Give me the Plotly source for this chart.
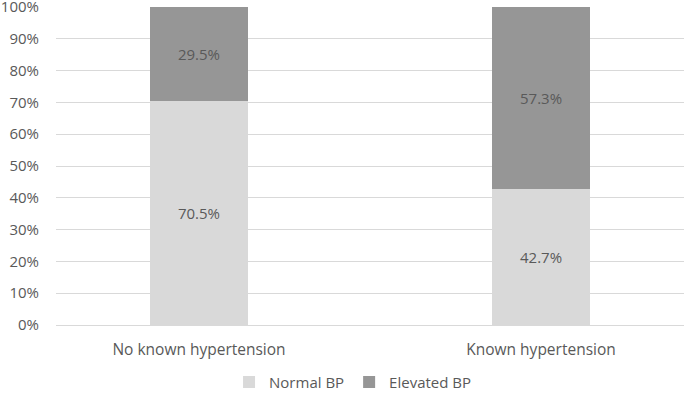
import plotly.graph_objects as go

categories = ["No known hypertension", "Known hypertension"]
normal_bp = [70.5, 42.7]
elevated_bp = [29.5, 57.3]
tick_vals = [0, 10, 20, 30, 40, 50, 60, 70, 80, 90, 100]
tick_text = [f"{v}%" for v in tick_vals]

font_family = "Open Sans, Liberation Sans, sans-serif"
text_color = "#595959"

fig = go.Figure()
fig.add_trace(go.Bar(
    x=categories, y=normal_bp, name="Normal BP",
    marker=dict(color="#d9d9d9", line=dict(width=0)),
    text=[f"{v:.1f}%" for v in normal_bp], textposition="inside",
    insidetextanchor="middle",
    textfont=dict(color=text_color, size=15, family=font_family),
    width=0.287,
))
fig.add_trace(go.Bar(
    x=categories, y=elevated_bp, name="Elevated BP",
    marker=dict(color="#969696", line=dict(width=0)),
    text=[f"{v:.1f}%" for v in elevated_bp], textposition="inside",
    insidetextanchor="middle",
    textfont=dict(color=text_color, size=15, family=font_family),
    width=0.287,
))

fig.update_layout(
    barmode="stack",
    width=685, height=393,
    margin=dict(l=56, r=1, t=7, b=68, autoexpand=False),
    paper_bgcolor="white", plot_bgcolor="white",
    font=dict(family=font_family, size=15, color=text_color),
    showlegend=True,
    legend=dict(orientation="h", x=0.473, xanchor="center", y=-0.128, yanchor="top",
                font=dict(size=15, color=text_color), traceorder="normal",
                itemwidth=30),
    uniformtext=dict(mode="show", minsize=15),
)
fig.update_yaxes(range=[0, 100], tickvals=tick_vals, ticktext=tick_text,
                 showgrid=True, gridcolor="#d9d9d9", gridwidth=1,
                 zeroline=False, showline=False, ticks="", ticklabelstandoff=16,
                 automargin=False, ticklabeloverflow="allow",
                 tickfont=dict(size=15, color=text_color))
fig.update_xaxes(range=[-0.418, 1.418], showline=True, linecolor="#d9d9d9",
                 linewidth=1, ticks="", ticklabelstandoff=10, automargin=False,
                 tickfont=dict(size=15.5, color=text_color))

fig.write_html("out.html", config={"displayModeBar": False},
               post_script="document.body.style.margin='0';")
